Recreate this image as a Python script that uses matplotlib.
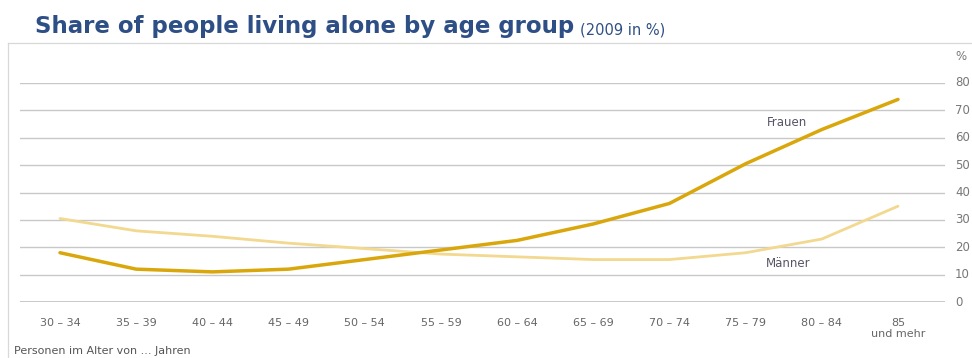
import matplotlib
matplotlib.use("Agg")
import matplotlib.pyplot as plt

# ---------------------------- data -----------------------------
age_groups = ["30 – 34", "35 – 39", "40 – 44", "45 – 49", "50 – 54", "55 – 59",
              "60 – 64", "65 – 69", "70 – 74", "75 – 79", "80 – 84", "85\nund mehr"]
frauen = [18, 12, 11, 12, 15.5, 19, 22.5, 28.5, 36, 50.5, 63, 74]
maenner = [30.5, 26, 24, 21.5, 19.5, 17.5, 16.5, 15.5, 15.5, 18, 23, 35]
y_ticks = [0, 10, 20, 30, 40, 50, 60, 70, 80]
# ----------------------------------------------------------------

W, H = 972, 358
fig = plt.figure(figsize=(W / 100, H / 100), dpi=100)

# outer frame (left + top)
fig.add_artist(plt.Line2D([8 / W, 8 / W], [0, 1 - 43 / H], color="#d8d8d8", lw=0.9))
fig.add_artist(plt.Line2D([8 / W, 1], [1 - 43 / H, 1 - 43 / H], color="#d8d8d8", lw=0.9))

ax = fig.add_axes([20 / W, (H - 302) / H, 925 / W, 219 / H])
x = list(range(len(age_groups)))
ax.set_xlim(-0.525, 11.617)
ax.set_ylim(0, 80)

for v in y_ticks:
    ax.axhline(v, color="#c8c8c8" if v else "#b8b8b8", lw=1.0 if v else 1.8, zorder=1)

ax.plot(x, maenner, color="#f2d98f", lw=2.0, solid_capstyle="round", zorder=3)
ax.plot(x, frauen, color="#d9a70c", lw=2.5, solid_capstyle="round", zorder=4)

ax.text(9.54, 65.4, "Frauen", fontsize=8.5, color="#555566", ha="center", va="center")
ax.text(9.56, 14.2, "Männer", fontsize=8.5, color="#555566", ha="center", va="center")

for s in ax.spines.values():
    s.set_visible(False)
ax.set_xticks([])
ax.set_yticks([])

# x labels
for i, lab in enumerate(age_groups):
    ax.text(i, -5.8, lab, fontsize=8, color="#666666", ha="center", va="top",
            linespacing=1.15)

# right-side value labels
for v in y_ticks:
    fig.text(955 / W, (H - (302 - v * 2.7375)) / H, str(v), fontsize=8.5,
             color="#777777", ha="left", va="center")
fig.text(955 / W, 1 - 57 / H, "%", fontsize=8.5, color="#777777", ha="left", va="center")

fig.text(35 / W, 1 - 27 / H, "Share of people living alone by age group",
         fontsize=16.5, fontweight="bold", color="#2e4f86", ha="left", va="center")
fig.text(580 / W, 1 - 30 / H, "(2009 in %)", fontsize=10.5, color="#2e4f86",
         ha="left", va="center")

fig.text(14 / W, 1 - 351 / H, "Personen im Alter von ... Jahren", fontsize=8,
         color="#555555", ha="left", va="center")

fig.savefig("out.png", dpi=100)
